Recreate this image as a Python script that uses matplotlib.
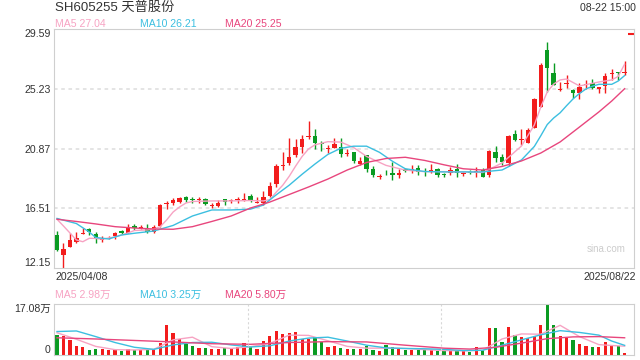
import numpy as np
import matplotlib
matplotlib.use('Agg')
import matplotlib.pyplot as plt

plt.rcParams['font.family'] = ['Liberation Sans', 'Noto Sans CJK SC', 'DejaVu Sans']

title = 'SH605255 天普股份'
stamp = '08-22 15:00'
first_date = '2025/04/08'
last_date = '2025/08/22'

# daily candles, 2025/04/08 .. 2025/08/22
opens = [14.56, 13.10, 13.71, 14.03, 14.62, 14.98, 14.61, 14.23, 14.38, 14.51,
         14.85, 14.73, 15.22, 15.08, 15.02, 14.80, 15.22, 16.80, 16.88, 16.95,
         17.36, 17.19, 17.10, 17.19, 16.66, 16.68, 17.17, 17.05, 17.10, 17.14,
         17.41, 16.90, 16.88, 17.41, 18.29, 19.58, 19.80, 20.41, 21.01, 21.72,
         21.79, 21.22, 20.88, 20.94, 21.01, 20.50, 20.60, 19.75, 20.41, 19.38,
         18.80, 19.17, 19.07, 18.94, 19.38, 19.26, 19.43, 19.22, 19.16, 19.36,
         18.96, 19.07, 19.36, 19.02, 19.14, 19.07, 19.31, 18.94, 20.60, 20.28,
         19.80, 21.94, 21.52, 21.31, 22.40, 23.94, 28.08, 26.42, 25.18, 25.57,
         25.16, 24.91, 25.49, 25.69, 25.21, 25.45, 26.35, 26.44, 26.37]
highs = [14.85, 13.95, 14.69, 14.80, 15.05, 15.05, 14.76, 14.49, 14.51, 14.80,
         14.93, 15.34, 15.39, 15.27, 15.37, 15.29, 16.83, 17.07, 17.24, 17.36,
         17.41, 17.36, 17.31, 17.24, 16.88, 17.12, 17.21, 17.17, 17.31, 17.61,
         17.56, 17.31, 17.80, 18.46, 19.75, 20.65, 21.63, 21.57, 21.87, 22.89,
         22.31, 21.45, 21.14, 21.67, 21.63, 20.82, 20.65, 20.28, 20.41, 19.60,
         19.00, 19.31, 19.89, 19.36, 19.48, 19.67, 19.67, 19.43, 19.75, 19.48,
         19.11, 19.51, 19.73, 19.19, 19.31, 19.51, 19.43, 20.77, 21.06, 20.46,
         21.87, 22.23, 22.28, 22.40, 24.55, 27.11, 28.68, 27.11, 25.76, 26.25,
         25.21, 25.64, 25.89, 25.94, 25.40, 26.37, 26.67, 26.49, 27.27]
lows = [13.40, 12.15, 13.68, 14.00, 14.60, 14.56, 14.00, 14.05, 14.25, 14.25,
        14.61, 14.69, 14.93, 14.98, 14.69, 14.69, 15.17, 16.44, 16.75, 16.88,
        16.99, 16.88, 16.92, 16.75, 16.51, 16.63, 16.75, 16.88, 16.92, 17.05,
        16.99, 16.88, 16.75, 17.31, 18.09, 19.31, 19.68, 20.28, 20.53, 21.55,
        20.82, 20.72, 20.53, 20.89, 20.28, 20.33, 19.80, 19.68, 19.19, 18.82,
        18.63, 18.94, 18.58, 18.70, 19.14, 19.07, 18.95, 18.89, 19.07, 18.82,
        18.82, 18.94, 18.82, 18.87, 18.99, 18.82, 18.78, 18.82, 19.92, 19.68,
        19.63, 21.43, 21.14, 21.26, 22.36, 23.89, 25.03, 25.52, 25.10, 25.28,
        24.55, 24.50, 25.21, 25.21, 24.91, 24.91, 25.89, 25.89, 26.25]
closes = [13.47, 13.54, 14.20, 14.37, 14.66, 14.78, 14.25, 14.27, 14.42, 14.73,
          14.69, 15.15, 15.10, 15.12, 14.76, 15.17, 16.75, 16.84, 17.12, 17.29,
          17.12, 17.15, 17.14, 16.81, 16.70, 16.92, 16.99, 17.09, 17.14, 17.18,
          17.12, 16.94, 17.31, 18.14, 19.60, 19.62, 20.28, 20.97, 21.58, 21.76,
          21.26, 21.18, 20.92, 21.21, 20.50, 20.53, 19.99, 19.99, 19.38, 18.94,
          18.84, 19.13, 18.91, 19.11, 19.24, 19.36, 19.19, 19.19, 19.31, 18.94,
          18.93, 19.31, 19.07, 19.05, 19.11, 19.24, 18.82, 20.72, 20.16, 19.86,
          21.79, 21.50, 21.56, 22.23, 24.50, 26.98, 26.74, 25.52, 25.22, 25.61,
          24.91, 25.40, 25.52, 25.28, 25.35, 26.18, 26.39, 26.41, 26.49]
# volume, 万股
volumes = [6.7, 6.4, 5.1, 3.0, 2.7, 1.7, 2.0, 1.9, 1.7, 1.7,
           1.4, 1.9, 1.7, 1.7, 1.9, 2.1, 3.9, 10.1, 7.5, 5.5,
           3.7, 3.0, 2.5, 2.5, 2.1, 2.1, 2.2, 2.1, 2.6, 3.9,
           3.0, 2.0, 4.7, 6.4, 8.1, 7.1, 7.3, 7.8, 5.5, 5.4,
           6.0, 4.5, 2.6, 3.0, 2.5, 2.1, 2.1, 2.0, 3.0, 1.7,
           1.3, 3.4, 2.6, 2.0, 1.7, 1.7, 1.7, 1.7, 1.7, 1.3,
           1.3, 1.5, 1.3, 1.3, 1.1, 2.6, 1.7, 9.0, 9.0, 4.5,
           9.3, 6.7, 6.0, 5.6, 6.4, 10.1, 17.08, 10.1, 6.4, 5.6,
           5.1, 3.7, 3.0, 2.8, 2.8, 4.5, 3.1, 3.1, 0.6]
limit_mark = 29.25

# price moving averages as drawn (index, value)
ma5_idx = [0, 1, 2, 3, 4, 5, 6, 7, 9, 11, 12, 14, 15, 16, 17, 18, 19, 20, 21, 24,
           27, 30, 32, 33, 34, 35, 36, 37, 38, 39, 40, 42, 44, 46, 48, 51, 54, 57,
           60, 63, 66, 69, 72, 74, 75, 76, 77, 78, 79, 81, 84, 86, 87, 88]
ma5 = [15.71, 15.22, 14.71, 14.20, 14.07, 14.32, 14.31, 14.26, 14.42, 14.71,
       14.89, 14.93, 15.00, 15.17, 15.66, 16.24, 16.61, 16.90, 17.01, 17.05,
       17.05, 17.08, 17.05, 17.15, 17.70, 18.20, 18.85, 19.60, 20.30, 20.85,
       21.15, 21.38, 21.35, 20.95, 20.30, 19.65, 19.30, 19.19,
       19.19, 19.17, 19.13, 19.82, 21.06, 22.60, 23.91, 25.01, 25.59, 25.89,
       25.96, 25.45, 25.74, 25.89, 26.15, 27.04]
ma10_idx = [0, 3, 5, 6, 8, 10, 12, 15, 18, 21, 24, 27, 30, 32, 34, 36, 38, 40, 42,
            44, 46, 48, 50, 52, 54, 57, 60, 63, 66, 69, 72, 74, 75, 76, 77, 78, 79,
            80, 81, 82, 83, 84, 86, 87, 88]
ma10 = [15.77, 15.40, 14.78, 14.38, 14.27, 14.56, 14.69, 14.85, 15.26, 15.95,
        16.39, 16.39, 16.45, 16.75, 17.50, 18.20, 19.00, 19.75, 20.45,
        20.90, 21.05, 21.05, 20.60, 19.95, 19.40, 19.20, 19.17, 19.17, 19.17,
        19.31, 20.04, 21.03, 21.81, 22.63, 23.11, 23.49, 24.01,
        24.50, 24.90, 25.23, 25.43, 25.57, 25.57, 25.81, 26.21]
ma20_idx = [0, 3, 6, 9, 12, 15, 18, 21, 24, 27, 30, 33, 36, 39, 42, 45, 48, 51, 54,
            57, 60, 63, 66, 69, 72, 75, 78, 81, 84, 86, 87, 88]
ma20 = [15.71, 15.55, 15.37, 15.17, 15.07, 15.00, 14.98, 15.17, 15.55, 15.95,
        16.53, 16.97, 17.52, 18.07, 18.65, 19.31, 19.86, 20.15, 20.24,
        20.01, 19.69, 19.40, 19.31, 19.57, 19.97, 20.55, 21.36, 22.45, 23.55,
        24.35, 24.80, 25.25]

# volume moving averages as drawn
vma_idx = [0, 3, 6, 9, 12, 15, 18, 21, 24, 27, 30, 33, 36, 39, 42, 45, 48, 51, 54,
           57, 60, 63, 66, 69, 72, 75, 78, 81, 84, 86, 88]
vma5 = [7.5, 5.3, 2.9, 1.8, 1.7, 1.9, 5.1, 6.0, 2.8, 2.2, 2.8, 3.9, 6.7, 6.6, 4.8,
        2.9, 2.3, 2.3, 2.2, 1.8, 1.5, 1.4, 1.6, 5.4, 7.1, 7.0, 10.0, 6.2, 3.5, 3.2,
        2.98]
vma10 = [7.9, 8.1, 6.2, 4.2, 2.6, 1.9, 3.4, 4.2, 4.3, 3.4, 2.7, 3.1, 4.7, 5.7, 6.0,
         4.7, 3.3, 2.4, 2.2, 2.1, 1.9, 1.5, 1.6, 3.3, 5.1, 6.8, 8.2, 7.6, 6.7, 4.7,
         3.25]
vma20_idx = [0, 6, 12, 18, 24, 30, 36, 42, 48, 54, 60, 64, 68, 72, 76, 80, 84, 88]
vma20 = [5.8, 5.4, 4.9, 4.4, 3.8, 3.6, 4.2, 4.5, 4.4, 3.3, 2.3, 2.0, 2.6, 4.0, 5.5,
         6.1, 6.2, 5.8]

price_ticks = [12.15, 16.51, 20.87, 25.23, 29.59]
vol_top = 17.08

RED = '#f21c1c'
GREEN = '#0a9b22'
C5, C10, C20 = '#f7a3c3', '#3cbfe0', '#e8467d'
TXT = '#333333'

o = np.array(opens); h = np.array(highs); l = np.array(lows); c = np.array(closes)
x = np.arange(len(c))
cols = [RED if cc >= oo else GREEN for oo, cc in zip(o, c)]

fig = plt.figure(figsize=(6.4, 3.6), dpi=100)
ax = fig.add_axes([54.3 / 640, 92 / 360, 580 / 640, 238.7 / 360])
axv = fig.add_axes([54.3 / 640, 5 / 360, 580 / 640, 50.7 / 360])

for a in (ax, axv):
    for s in a.spines.values():
        s.set_color('#cfcfcf')
        s.set_linewidth(0.8)
    a.set_xlim(-0.42, 89.5)

# price panel
for t in price_ticks[1:-1]:
    ax.axhline(t, color='#e2e2e2', lw=1.3, ls=(0, (2, 2)), zorder=0)
ax.vlines(x, l, h, color=cols, lw=1.0, zorder=2)
ax.bar(x, np.maximum(np.abs(c - o), 0.07), bottom=np.minimum(o, c), width=0.68,
       color=cols, lw=0, zorder=3)
ax.plot(ma5_idx, ma5, color=C5, lw=1.0, zorder=4)
ax.plot(ma10_idx, ma10, color=C10, lw=1.0, zorder=4)
ax.plot(ma20_idx, ma20, color=C20, lw=1.0, zorder=4)
ax.hlines(limit_mark, len(c) - 0.4, len(c) + 0.4, color=RED, lw=1.5)
ax.set_ylim(price_ticks[0], price_ticks[-1])
ax.set_xticks([])
ax.set_yticks(price_ticks)
ax.set_yticklabels([f'{t:.2f}' for t in price_ticks], fontsize=7.6, color=TXT)
ax.tick_params(axis='y', length=0, pad=2.5)
labs = ax.get_yticklabels()
labs[0].set_va('bottom')
labs[-1].set_va('top')
ax.text(0.985, 0.08, 'sina.com', transform=ax.transAxes, ha='right', va='center',
        fontsize=7, color='#cccccc')

# volume panel
axv.bar(x, volumes, width=0.5, color=cols, lw=0)
axv.plot(vma_idx, vma5, color=C5, lw=1.0)
axv.plot(vma_idx, vma10, color=C10, lw=1.0)
axv.plot(vma20_idx, vma20, color=C20, lw=1.0)
for fx in (1 / 3, 2 / 3):
    axv.plot([fx, fx], [0, 1], transform=axv.transAxes, color='#d8d8d8', lw=0.8,
             ls=(0, (2, 2)))
axv.set_ylim(0, vol_top)
axv.set_xticks([])
axv.set_yticks([0, vol_top])
axv.set_yticklabels(['0', f'{vol_top:.2f}万'], fontsize=7.6, color=TXT)
axv.tick_params(axis='y', length=0, pad=2.5)
vl = axv.get_yticklabels()
vl[0].set_va('bottom')
vl[1].set_va('top')

# header texts
def ftxt(px, py, s, color=TXT, size=7.6, ha='left'):
    fig.text(px / 640, 1 - py / 360, s, color=color, fontsize=size, ha=ha, va='center')

ftxt(55, 8, title, size=9.5)
ftxt(636, 8, stamp, ha='right')
ftxt(55, 24, f'MA5 {ma5[-1]:.2f}', C5)
ftxt(140, 24, f'MA10 {ma10[-1]:.2f}', C10)
ftxt(225, 24, f'MA20 {ma20[-1]:.2f}', C20)
ftxt(55, 277, first_date)
ftxt(636, 277, last_date, ha='right')
ftxt(55, 295, f'MA5 {vma5[-1]:.2f}万', C5)
ftxt(140, 295, f'MA10 {vma10[-1]:.2f}万', C10)
ftxt(225, 295, f'MA20 {vma20[-1]:.2f}万', C20)

fig.savefig('out.png', dpi=100)
